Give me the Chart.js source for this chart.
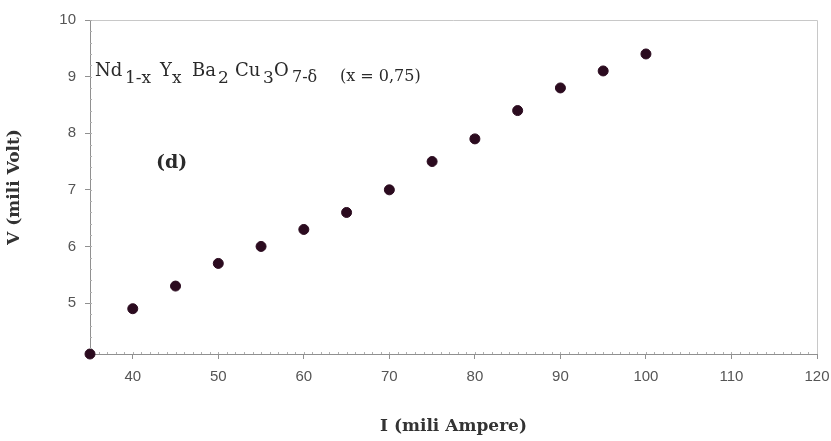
<!DOCTYPE html>
<html>
<head>
<meta charset="utf-8">
<script src="https://cdn.jsdelivr.net/npm/chart.js@4"></script>
<style>
  html, body { margin: 0; padding: 0; background: #fff; }
  #wrap { width: 831px; height: 441px; }
</style>
</head>
<body>
<div id="wrap"><canvas id="vi"></canvas></div>
<script>
// current (mA) vs voltage (mV)
const current = [35, 40, 45, 50, 55, 60, 65, 70, 75, 80, 85, 90, 95, 100];
const voltage = [4.1, 4.9, 5.3, 5.7, 6.0, 6.3, 6.6, 7.0, 7.5, 7.9, 8.4, 8.8, 9.1, 9.4];

const xTicks = [40, 50, 60, 70, 80, 90, 100, 110, 120];
const yTicks = [5, 6, 7, 8, 9, 10];

const serif = '"DejaVu Serif", "Liberation Serif", serif';
const sans = '"Liberation Sans", Arial, sans-serif';

// frame box + small minor ticks pointing into the plot
const frame = {
  id: 'frame',
  afterDraw(chart) {
    const { ctx, chartArea: a, scales: { x, y } } = chart;
    ctx.save();
    ctx.strokeStyle = '#c8c8c8';
    ctx.lineWidth = 1;
    ctx.beginPath();
    ctx.moveTo(a.left, a.top + 0.5);
    ctx.lineTo(a.right + 0.5, a.top + 0.5);
    ctx.lineTo(a.right + 0.5, a.bottom);
    ctx.stroke();

    ctx.strokeStyle = '#b0b0b0';
    ctx.beginPath();
    for (let v = 36; v < 120; v++) {
      const px = Math.round(x.getPixelForValue(v)) + 0.5;
      ctx.moveTo(px, a.bottom);
      ctx.lineTo(px, a.bottom - 2);
    }
    for (let v = 4.2; v < 10; v += 0.2) {
      const py = Math.round(y.getPixelForValue(v)) + 0.5;
      ctx.moveTo(a.left, py);
      ctx.lineTo(a.left + 2, py);
    }
    ctx.stroke();
    ctx.restore();
  }
};

// compound formula and panel label
const labels = {
  id: 'labels',
  afterDraw(chart) {
    const { ctx, chartArea: a } = chart;
    ctx.save();
    ctx.fillStyle = '#2a2a2a';
    ctx.textBaseline = 'alphabetic';
    ctx.textAlign = 'left';

    const base = a.top + 56;
    // [text, x offset from plot left, baseline shift, font size]
    const parts = [
      ['Nd', 5, 0, 18], ['1-x', 35, 7, 17],
      ['Y', 70, 0, 18], ['x', 82, 7, 17],
      ['Ba', 102, 0, 18], ['2', 128, 7, 17],
      ['Cu', 145, 0, 18], ['3', 173, 7, 17],
      ['O', 184, 0, 18], ['7-\u03b4', 202, 6, 16],
      ['(x = 0,75)', 250, 5, 16]
    ];
    parts.forEach(([t, dx, dy, size]) => {
      ctx.font = size + 'px ' + serif;
      ctx.fillText(t, a.left + dx, base + dy);
    });

    ctx.font = 'bold 19px ' + serif;
    ctx.fillText('(d)', a.left + 66, base + 92);
    ctx.restore();
  }
};

new Chart(document.getElementById('vi'), {
  type: 'scatter',
  data: {
    datasets: [{
      label: 'V-I',
      data: current.map((c, i) => ({ x: c, y: voltage[i] })),
      backgroundColor: '#2b0b1f',
      borderColor: '#2b0b1f',
      pointRadius: 5,
      pointHoverRadius: 5,
      clip: false
    }]
  },
  options: {
    responsive: true,
    maintainAspectRatio: false,
    animation: false,
    layout: { padding: { top: 20, right: 14, bottom: 0, left: 0 } },
    plugins: { legend: { display: false }, tooltip: { enabled: false } },
    scales: {
      x: {
        type: 'linear',
        min: 35,
        max: 120,
        afterBuildTicks: s => { s.ticks = xTicks.map(v => ({ value: v })); },
        afterFit: s => { s.height = 87; s.paddingLeft = 0; s.paddingRight = 0; },
        grid: { drawOnChartArea: false, tickLength: 5, color: '#909090' },
        border: { color: '#909090' },
        ticks: { font: { family: sans, size: 15 }, color: '#555', padding: 9, maxRotation: 0 },
        title: {
          display: true,
          text: 'I (mili Ampere)',
          font: { family: serif, size: 17, weight: 'bold' },
          color: '#333',
          padding: { top: 17 }
        }
      },
      y: {
        type: 'linear',
        min: 4.1,
        max: 10,
        afterBuildTicks: s => { s.ticks = yTicks.map(v => ({ value: v })); },
        afterFit: s => { s.width = 90; },
        grid: { drawOnChartArea: false, tickLength: 5, color: '#909090' },
        border: { color: '#909090' },
        ticks: { font: { family: sans, size: 15 }, color: '#555', padding: 9 },
        title: {
          display: true,
          text: 'V (mili Volt)',
          font: { family: serif, size: 17, weight: 'bold' },
          color: '#333',
          padding: { bottom: 16 }
        }
      }
    }
  },
  plugins: [frame, labels]
});
</script>
</body>
</html>
